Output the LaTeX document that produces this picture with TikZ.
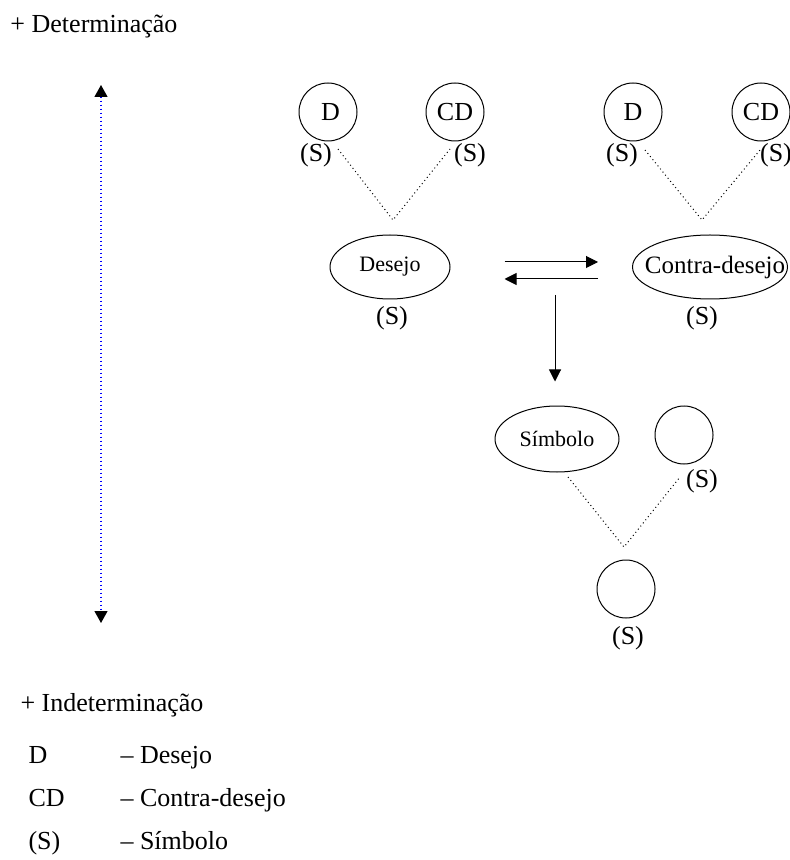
\documentclass[tikz,border=0pt]{standalone}
\usepackage{fontspec}
\setmainfont{Liberation Serif}
\usepackage{tikz}
\usetikzlibrary{arrows.meta,shapes.geometric}

\begin{document}
\begin{tikzpicture}[x=0.5pt,y=-0.5pt,line width=0.5pt,
  >={Triangle[width=6pt,length=6pt]},
  font=\fontsize{13}{15}\selectfont,
  circ/.style={draw,circle,minimum size=29pt,inner sep=0pt},
  oval/.style={draw,ellipse,minimum width=60pt,minimum height=32pt,inner sep=0pt,font=\fontsize{11}{13}\selectfont},
  lab/.style={inner sep=0pt},
  dotline/.style={dash pattern=on 0.5pt off 1.5pt,line width=0.5pt}]
\useasboundingbox (0,0) rectangle (790,860);
% scale: from more to less determination
\node[lab,anchor=base west] (det) at (10,33) {+ Determinação};
\node[lab,anchor=base west] (ind) at (20,711) {+ Indeterminação};
\coordinate (top) at (101,85);
\coordinate (bot) at (101,623);
\draw[blue,dotline,line width=0.6pt,{Triangle[width=6.5pt,length=6pt,color=black]}-{Triangle[width=6.5pt,length=6pt,color=black]}](top)--(bot);

% desejo
\node[circ] (d1) at (328,112) {\hspace*{2.5pt}D};
\node[circ] (cd1) at (455,112) {CD};
\node[lab] (s1) at (316,155) {(S)};
\node[lab] (s2) at (470,155) {(S)};
\coordinate (v1) at (393,220);
\coordinate (a1) at (338,149);
\coordinate (b1) at (450,149);
\draw[dotline](a1)--(v1)--(b1);
\node[oval] (des) at (390,267) {Desejo};
\node[lab] (s3) at (392,318) {(S)};

% contra-desejo
\node[circ] (d2) at (633,112) {D};
\node[circ] (cd2) at (761,112) {CD};
\node[lab] (s4) at (622,155) {(S)};
\node[lab] (s5) at (776,155) {(S)};
\coordinate (v2) at (702,220);
\coordinate (a2) at (645,150);
\coordinate (b2) at (760,150);
\draw[dotline](a2)--(v2)--(b2);
\node[oval,minimum width=77.5pt,label={[lab,font=\fontsize{12.5}{14}\selectfont,xshift=2.5pt]center:Contra-desejo}] (con) at (710,267) {};
\node[lab] (s6) at (702,318) {(S)};

\draw[->,shorten <=27pt,shorten >=17pt]([yshift=2.5pt]des.east)--([yshift=2.5pt]con.west);
\draw[->,shorten <=17pt,shorten >=27pt]([yshift=-6pt]con.west)--([yshift=-6pt]des.east);

% simbolo
\node[oval,minimum width=62pt,minimum height=33pt] (sim) at (557,439) {Símbolo};
\coordinate (fork) at (555,295);
\draw[->,shorten >=12pt](fork)--(fork|-sim.north);
\node[circ] (c1) at (684,435) {};
\node[lab] (s7) at (702,481) {(S)};
\coordinate (v3) at (624,547);
\coordinate (a3) at (568,477);
\coordinate (b3) at (680,477);
\draw[dotline](a3)--(v3)--(b3);
\node[circ] (c2) at (626,589) {};
\node[lab] (s8) at (628,638) {(S)};

% legenda
\node[lab,anchor=base west] (k1) at (28,763) {D};
\node[lab,anchor=base west] (k2) at (28,806) {CD};
\node[lab,anchor=base west] (k3) at (28,849) {(S)};
\node[lab,anchor=base west] (t1) at (120,763) {– Desejo};
\node[lab,anchor=base west] (t2) at (120,806) {– Contra-desejo};
\node[lab,anchor=base west] (t3) at (120,849) {– Símbolo};
\end{tikzpicture}
\end{document}
